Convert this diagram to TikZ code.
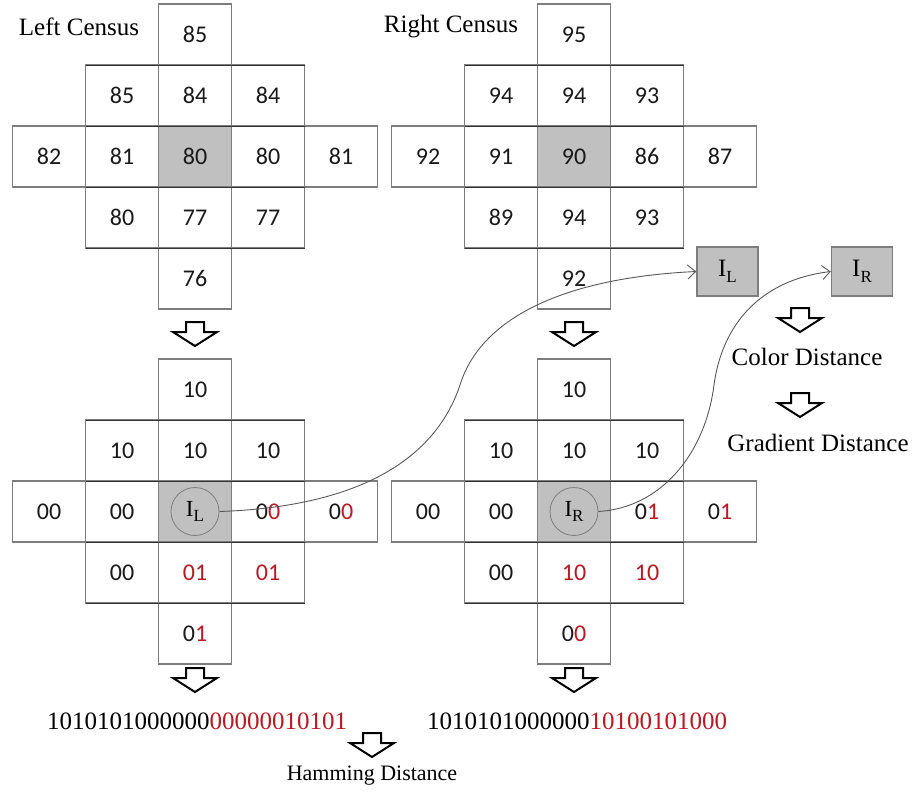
\documentclass[tikz,border=0pt]{standalone}
\usepackage{fontspec}
\setmainfont{Liberation Serif}
\newfontfamily\cellfont{Carlito}
\usetikzlibrary{arrows.meta}

\definecolor{cellgray}{RGB}{192,192,192}
\definecolor{edgegray}{RGB}{125,125,125}
\definecolor{bitred}{RGB}{185,25,35}

% pixel I with a small subscript
\newcommand{\pixI}[1]{I\raisebox{-0.22em}{\fontsize{17}{17}\selectfont #1}}

\tikzset{
  cell/.style={draw=edgegray, line width=1.4pt, minimum width=73pt, minimum height=61pt,
    inner sep=0pt, outer sep=0pt, text=black!90, font=\cellfont\fontsize{24}{24}\selectfont},
  pivot/.style={cell, fill=cellgray},
  rule/.style={black!80, line width=0.7pt},
  heading/.style={font=\fontsize{25}{27}\selectfont},
  bits/.style={font=\fontsize{25}{27}\selectfont},
  pixel/.style={circle, draw=edgegray, line width=0.8pt, fill=cellgray, minimum size=48pt,
    inner sep=0pt, font=\fontsize{23}{23}\selectfont},
  ibox/.style={draw=edgegray, line width=1.4pt, fill=cellgray, minimum width=61pt,
    minimum height=49pt, inner sep=0pt, font=\fontsize{25}{25}\selectfont},
  link/.style={draw=black!65, line width=0.9pt, -{Straight Barb[length=8pt,width=14pt]}},
  hollowdown/.pic={
    \draw[line width=2pt, fill=white] (-9,0) -- (9,0) -- (9,10) -- (22,10) -- (0,24)
      -- (-22,10) -- (-9,10) -- cycle;
  }
}

\begin{document}
\begin{tikzpicture}[x=1pt, y=-1pt]
  \useasboundingbox (0,0) rectangle (915,792);

  % left census window
  \node[heading] (lt) at (79,27) {Left Census};
  \node[cell] (lc31) at (195,34.5) {85};
  \node[cell] (lc22) at (122,95.5) {85};
  \node[cell] (lc32) at (195,95.5) {84};
  \node[cell] (lc42) at (268,95.5) {84};
  \node[cell] (lc13) at (49,156.5) {82};
  \node[cell] (lc23) at (122,156.5) {81};
  \node[pivot] (lc33) at (195,156.5) {80};
  \node[cell] (lc43) at (268,156.5) {80};
  \node[cell] (lc53) at (341,156.5) {81};
  \node[cell] (lc24) at (122,217.5) {80};
  \node[cell] (lc34) at (195,217.5) {77};
  \node[cell] (lc44) at (268,217.5) {77};
  \node[cell] (lc35) at (195,278.5) {76};
  \draw[rule] (lc22.north west) -- (lc42.north east);
  \draw[rule] (lc23.north west) -- (lc43.north east);
  \draw[rule] (lc24.north west) -- (lc44.north east);
  \draw[rule] (lc24.south west) -- (lc44.south east);

  % right census window
  \node[heading] (rt) at (451,27) {Right Census};
  \node[cell] (rc31) at (574,34.5) {95};
  \node[cell] (rc22) at (501,95.5) {94};
  \node[cell] (rc32) at (574,95.5) {94};
  \node[cell] (rc42) at (647,95.5) {93};
  \node[cell] (rc13) at (428,156.5) {92};
  \node[cell] (rc23) at (501,156.5) {91};
  \node[pivot] (rc33) at (574,156.5) {90};
  \node[cell] (rc43) at (647,156.5) {86};
  \node[cell] (rc53) at (720,156.5) {87};
  \node[cell] (rc24) at (501,217.5) {89};
  \node[cell] (rc34) at (574,217.5) {94};
  \node[cell] (rc44) at (647,217.5) {93};
  \node[cell] (rc35) at (574,278.5) {92};
  \draw[rule] (rc22.north west) -- (rc42.north east);
  \draw[rule] (rc23.north west) -- (rc43.north east);
  \draw[rule] (rc24.north west) -- (rc44.north east);
  \draw[rule] (rc24.south west) -- (rc44.south east);

  % left census bits
  \node[cell] (lb31) at (195,389.5) {10};
  \node[cell] (lb22) at (122,450.5) {10};
  \node[cell] (lb32) at (195,450.5) {10};
  \node[cell] (lb42) at (268,450.5) {10};
  \node[cell] (lb13) at (49,511.5) {00};
  \node[cell] (lb23) at (122,511.5) {00};
  \node[pivot] (lb33) at (195,511.5) {};
  \node[cell] (lb43) at (268,511.5) {0\textcolor{bitred}{0}};
  \node[cell] (lb53) at (341,511.5) {0\textcolor{bitred}{0}};
  \node[cell] (lb24) at (122,572.5) {00};
  \node[cell] (lb34) at (195,572.5) {\textcolor{bitred}{01}};
  \node[cell] (lb44) at (268,572.5) {\textcolor{bitred}{01}};
  \node[cell] (lb35) at (195,633.5) {0\textcolor{bitred}{1}};
  \draw[rule] (lb22.north west) -- (lb42.north east);
  \draw[rule] (lb23.north west) -- (lb43.north east);
  \draw[rule] (lb24.north west) -- (lb44.north east);
  \draw[rule] (lb24.south west) -- (lb44.south east);
  \node[pixel] (pl) at (lb33) {\pixI{L}};

  % right census bits
  \node[cell] (rb31) at (574,389.5) {10};
  \node[cell] (rb22) at (501,450.5) {10};
  \node[cell] (rb32) at (574,450.5) {10};
  \node[cell] (rb42) at (647,450.5) {10};
  \node[cell] (rb13) at (428,511.5) {00};
  \node[cell] (rb23) at (501,511.5) {00};
  \node[pivot] (rb33) at (574,511.5) {};
  \node[cell] (rb43) at (647,511.5) {0\textcolor{bitred}{1}};
  \node[cell] (rb53) at (720,511.5) {0\textcolor{bitred}{1}};
  \node[cell] (rb24) at (501,572.5) {00};
  \node[cell] (rb34) at (574,572.5) {\textcolor{bitred}{10}};
  \node[cell] (rb44) at (647,572.5) {\textcolor{bitred}{10}};
  \node[cell] (rb35) at (574,633.5) {0\textcolor{bitred}{0}};
  \draw[rule] (rb22.north west) -- (rb42.north east);
  \draw[rule] (rb23.north west) -- (rb43.north east);
  \draw[rule] (rb24.north west) -- (rb44.north east);
  \draw[rule] (rb24.south west) -- (rb44.south east);
  \node[pixel] (pr) at (rb33) {\pixI{R}};

  % pixel pair and distances
  \node[ibox] (il) at (727.5,271.5) {\pixI{L}};
  \node[ibox] (ir) at (862,271.5) {\pixI{R}};
  \node[bits] (cd) at (807,357) {Color Distance};
  \node[bits] (gd) at (818,443) {Gradient Distance};

  % bit strings
  \node[bits] (ls) at (197,721) {1010101000000\textcolor{bitred}{00000010101}};
  \node[bits] (rs) at (577,721) {1010101000000\textcolor{bitred}{10100101000}};
  \node[font=\fontsize{22}{24}\selectfont] (hd) at (372,776) {Hamming Distance};

  \pic at (195,322) {hollowdown};
  \pic at (574,322) {hollowdown};
  \pic at (195,668) {hollowdown};
  \pic at (574,668) {hollowdown};
  \pic at (800,308) {hollowdown};
  \pic at (800,393) {hollowdown};
  \pic at (372,733) {hollowdown};

  \draw[link] (pl.east) .. controls (380,506) and (440,445) .. (460,385)
    .. controls (480,320) and (560,278) .. (il.west);
  \draw[link] (pr.east) .. controls (660,508) and (705,455) .. (714,385)
    .. controls (722,325) and (760,280) .. (ir.west);
\end{tikzpicture}
\end{document}
